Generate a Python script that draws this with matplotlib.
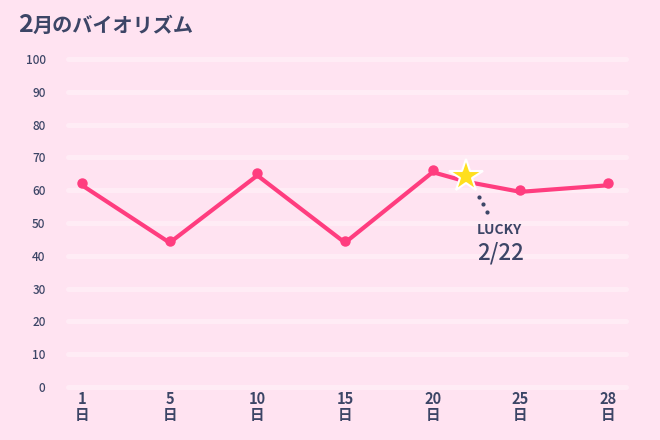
import matplotlib
matplotlib.use("Agg")
import matplotlib.pyplot as plt
import matplotlib.transforms as mtransforms

plt.rcParams['font.family'] = ['Noto Sans CJK JP', 'DejaVu Sans']

# ---- data ----
days = ["1", "5", "10", "15", "20", "25", "28"]
day_suffix = "日"
values = [61.5, 44, 64.5, 44, 65.5, 59.5, 61.5]
lucky_day = 22
lucky_value = 62.5
y_ticks = [0, 10, 20, 30, 40, 50, 60, 70, 80, 90, 100]
title_num = "2"
title_rest = "月のバイオリズム"
lucky_label = "LUCKY"
lucky_date = "2/22"

# ---- style ----
BG = "#ffe3f1"
LINE = "#ff3d7f"
TEXT = "#3c4566"
STAR = "#ffdf1e"

W, H = 660, 440
fig = plt.figure(figsize=(W / 100, H / 100), dpi=100, facecolor=BG)

left_px, right_px, bottom_px, top_px = 65, 628, 387, 59
ax = fig.add_axes([left_px / W, 1 - bottom_px / H,
                   (right_px - left_px) / W, (bottom_px - top_px) / H])
ax.set_facecolor(BG)
for s in ax.spines.values():
    s.set_visible(False)

xs = list(range(len(days)))
ax.set_xlim(-0.194, 6.228)
ax.set_ylim(0, 100)

# gridlines
for yv in y_ticks:
    ax.plot([-0.16, 6.2], [yv, yv], color="white", alpha=0.35, lw=3.5,
            solid_capstyle="round", clip_on=False, zorder=1)

i20 = days.index("20")
lucky_x = i20 + (lucky_day - 20) / (25 - 20)

line_x = xs[:i20 + 1] + [lucky_x] + xs[i20 + 1:]
line_y = values[:i20 + 1] + [lucky_value] + values[i20 + 1:]
ax.plot(line_x, line_y, color=LINE, lw=3, solid_joinstyle="round",
        clip_on=False, zorder=3)

dot_off = ax.transData + mtransforms.ScaledTranslation(0, 2 / 100, fig.dpi_scale_trans)
ax.plot(xs, values, 'o', color=LINE, ms=6.5, mec=LINE, transform=dot_off,
        clip_on=False, zorder=4)

star_off = ax.transData + mtransforms.ScaledTranslation(-2 / 100, 6 / 100, fig.dpi_scale_trans)
ax.plot([lucky_x], [lucky_value], marker='*', color=STAR, ms=25, mec="white",
        mew=1.5, transform=star_off, clip_on=False, zorder=5)

# dotted leader
for k in range(3):
    ox = (11 + 4 * k) / 100
    oy = -(15 + 7.5 * k) / 100
    tr = ax.transData + mtransforms.ScaledTranslation(ox, oy, fig.dpi_scale_trans)
    ax.plot([lucky_x], [lucky_value], 'o', color=TEXT, ms=2.0, transform=tr,
            clip_on=False, zorder=5)

pt = 72 / 100
ax.annotate(lucky_label, xy=(lucky_x, lucky_value), xytext=(9 * pt, -52 * pt),
            textcoords="offset points", ha="left", va="baseline",
            fontsize=10, fontweight="bold", color=TEXT)
ax.annotate(lucky_date, xy=(lucky_x, lucky_value), xytext=(9 * pt, -78 * pt),
            textcoords="offset points", ha="left", va="baseline",
            fontsize=16, fontweight="medium", color=TEXT)

# ticks
ax.set_yticks(y_ticks)
ax.set_yticklabels([str(v) for v in y_ticks], fontsize=8.5, color=TEXT,
                   fontweight="medium")
ax.set_xticks(xs)
ax.set_xticklabels([f"{d}\n{day_suffix}" for d in days], fontsize=10.5,
                   color=TEXT, fontweight="bold", linespacing=1.0)
ax.tick_params(axis="y", length=0, pad=14)
ax.tick_params(axis="x", length=0, pad=3)

# title
fig.text(18 / W, 1 - 32 / H, title_num, fontsize=18, fontweight="bold",
         color=TEXT, va="baseline", ha="left")
fig.text(33 / W, 1 - 32 / H, title_rest, fontsize=14.5, fontweight="bold",
         color=TEXT, va="baseline", ha="left")

fig.savefig("out.png", dpi=100, facecolor=BG)
